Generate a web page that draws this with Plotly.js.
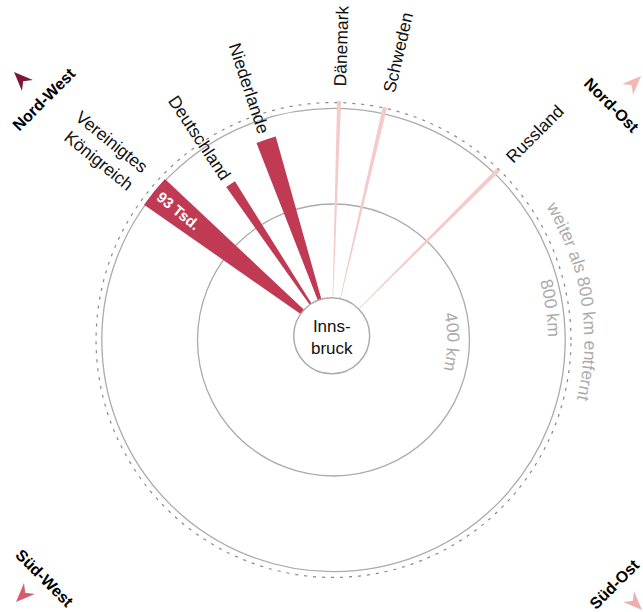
<!DOCTYPE html>
<html><head><meta charset="utf-8">
<script src="https://cdn.plot.ly/plotly-3.0.1.min.js"></script>
<style>html,body{margin:0;padding:0;background:#fff;overflow:hidden}#chart{width:643px;height:612px}</style>
</head><body><div id="chart"></div>
<script>
// ---------------- data ----------------
const countries   = ['Vereinigtes Königreich','Deutschland','Niederlande','Dänemark','Schweden','Russland'];
const labelText   = ['Vereinigtes<br>Königreich','Deutschland','Niederlande','Dänemark','Schweden','Russland'];
const bearingDeg  = [309.1, 326.3, 341.5, 1.8, 13.1, 45.1];
const distanceKm  = [799, 604, 707, null, null, null];   // null = weiter als 800 km
const guestsTsd   = [93, 37, 63, 11, 12, 12];
const ringKm      = [400, 800];
const ringLabels  = ['400 km', '800 km'];
const beyondKm    = 824;
const beyondLabel = 'weiter als 800 km entfernt';
const compassNames = ['Nord-West','Nord-Ost','Süd-West','Süd-Ost'];
const centerName  = 'Inns-<br>bruck';
const valueUnit   = ' Tsd.';

// ---------------- geometry / style ----------------
const W = 643, H = 612;
const FONT = '"Liberation Sans", Arial, Helvetica, sans-serif';
const RMAX = 860;
const C1 = {x:333.5, y:340}, HOLE1 = 40.3, SCALE1 = 0.23925;      // ring subplot
const C2 = {x:331.7, y:335.8}, HOLE2 = 38, SCALE2 = 0.239;        // wedge subplot
const R1 = HOLE1 + SCALE1*RMAX, R2 = HOLE2 + SCALE2*RMAX;
const DEG_PER_TSD = 8.3/93;
const DARK = '#c13a53', PALE = '#f4caca', GRAY = '#ababab';
const LABEL_SIZE = 17.5;

const cv = document.createElement('canvas').getContext('2d');
function tw(s, size, bold){ cv.font = (bold?'bold ':'') + size + 'px ' + FONT; return cv.measureText(s).width; }
const X = px => px/W, Y = py => 1 - py/H;
function dom(c,R){ return {x:[(c.x-R)/W,(c.x+R)/W], y:[1-(c.y+R)/H, 1-(c.y-R)/H]}; }
const rad = d => d*Math.PI/180;

const annotations = [];
function ann(text, px, py, opts){
  annotations.push(Object.assign({text, x:X(px), y:Y(py), xref:'paper', yref:'paper',
    xanchor:'center', yanchor:'middle', showarrow:false,
    font:{family:FONT, size:LABEL_SIZE, color:'#111'}}, opts||{}));
}
function arcText(str, c, r, angCenter, size, color){
  const total = tw(str, size);
  const rAdv = r - 0.3*size;
  for (let i=0;i<str.length;i++){
    const ch = str[i]; if (ch===' ') continue;
    const a = tw(str.slice(0,i), size), b = tw(str.slice(0,i+1), size);
    const mid = (a+b)/2 - total/2;
    const ang = angCenter + (mid/rAdv)*180/Math.PI;
    ann(ch, c.x + r*Math.cos(rad(ang)), c.y + r*Math.sin(rad(ang)),
        {textangle: ang+90, font:{family:FONT, size:size, color:color}});
  }
}

// ---------------- traces ----------------
const isBeyond = distanceKm.map(d => d === null);
const wedgeR = distanceKm.map((d,i) => isBeyond[i] ? beyondKm : d);
const traces = [
  {type:'scatterpolar', subplot:'polar', r:[], theta:[], hoverinfo:'skip', showlegend:false},
  {type:'scatterpolar', subplot:'polar2', r:[], theta:[], hoverinfo:'skip', showlegend:false},
  {type:'barpolar', subplot:'polar3', r:wedgeR, theta:bearingDeg,
   width:guestsTsd.map(v => v*DEG_PER_TSD), text:countries, hoverinfo:'text',
   marker:{color:isBeyond.map(b => b?PALE:DARK), line:{width:0}}, showlegend:false}
];

// ---------------- labels ----------------
labelText.forEach((t,i) => {
  const tipPx = HOLE2 + SCALE2*wedgeR[i];
  const startR = (isBeyond[i] || tipPx > 220) ? 250 : tipPx + 7;
  const lines = t.split('<br>');
  const w = Math.max(...lines.map(l => tw(l, LABEL_SIZE)));
  const phi = bearingDeg[i] - 90;
  const cR = startR + w/2;
  const left = Math.cos(rad(phi)) < 0;
  ann(t, C2.x + cR*Math.cos(rad(phi)), C2.y + cR*Math.sin(rad(phi)),
      {textangle: left ? phi-180 : phi, align: left ? 'right' : 'left'});
});
// value label in the largest wedge
{
  const phi = bearingDeg[0] - 90, r = 198;
  ann(guestsTsd[0] + valueUnit, C2.x + r*Math.cos(rad(phi)), C2.y + r*Math.sin(rad(phi)),
      {textangle: phi-180, font:{family:FONT, size:15, color:'#fff', weight:'bold'}});
}
// center
ann(centerName, 332, 337.5, {font:{family:FONT, size:17, color:'#111'}});
// ring labels
arcText(ringLabels[0], C1, 120, 1.2, LABEL_SIZE, GRAY);
arcText(ringLabels[1], C1, 220.5, -8.3, LABEL_SIZE, GRAY);
arcText(beyondLabel, C1, 256.5, -9.2, LABEL_SIZE, GRAY);
// compass
const compassPos = [[44,100,-45],[612,105,45],[45,578,45],[614,584,-45]];
compassNames.forEach((n,i) => ann(n, compassPos[i][0], compassPos[i][1],
  {textangle: compassPos[i][2], font:{family:FONT, size:16, color:'#000', weight:'bold'}}));

// ---------------- shapes ----------------
function arrow(tip, dirDeg, color){
  const L=19, hw=7.7, notch=6;
  const d=[Math.cos(rad(dirDeg)), Math.sin(rad(dirDeg))], p=[-d[1], d[0]];
  const bm=[tip[0]-L*d[0], tip[1]-L*d[1]];
  const c1=[bm[0]+hw*p[0], bm[1]+hw*p[1]], c2=[bm[0]-hw*p[0], bm[1]-hw*p[1]];
  const n=[bm[0]+notch*d[0], bm[1]+notch*d[1]];
  const pt = q => X(q[0]).toFixed(5)+','+Y(q[1]).toFixed(5);
  return {type:'path', xref:'paper', yref:'paper', path:'M'+pt(tip)+' L'+pt(c1)+' L'+pt(n)+' L'+pt(c2)+' Z',
          fillcolor:color, line:{width:0}, layer:'above'};
}
const shapes = [
  {type:'circle', xref:'paper', yref:'paper', x0:X(C2.x-HOLE2), x1:X(C2.x+HOLE2), y0:Y(C2.y+HOLE2), y1:Y(C2.y-HOLE2),
   fillcolor:'#fff', line:{color:GRAY, width:1.5}, layer:'above'},
  arrow([14,72], -135, '#7d1832'),
  arrow([641,76], -45, '#f3b8b4'),
  arrow([16,602], 135, '#d65e6c'),
  arrow([642,610], 45, '#f1adb0')
];

const hiddenAng = {showgrid:false, showticklabels:false, ticks:'', showline:false, rotation:90, direction:'clockwise'};
const layout = {
  width:W, height:H, margin:{l:0,r:0,t:0,b:0}, paper_bgcolor:'#fff', showlegend:false,
  polar:{domain:dom(C1,R1), hole:HOLE1/R1, bgcolor:'rgba(0,0,0,0)',
    radialaxis:{range:[0,RMAX], tickvals:ringKm, showticklabels:false, ticks:'', showline:false, gridcolor:GRAY, gridwidth:1.3},
    angularaxis:hiddenAng},
  polar2:{domain:dom(C1,R1), hole:HOLE1/R1, bgcolor:'rgba(0,0,0,0)',
    radialaxis:{range:[0,RMAX], tickvals:[beyondKm], showticklabels:false, ticks:'', showline:false, gridcolor:'#888', gridwidth:1.2, griddash:'3px,6px'},
    angularaxis:hiddenAng},
  polar3:{domain:dom(C2,R2), hole:HOLE2/R2, bgcolor:'rgba(0,0,0,0)',
    radialaxis:{range:[0,RMAX], visible:false},
    angularaxis:Object.assign({}, hiddenAng, {visible:false})},
  shapes, annotations
};
Plotly.newPlot('chart', traces, layout, {staticPlot:true, displayModeBar:false});
</script></body></html>
